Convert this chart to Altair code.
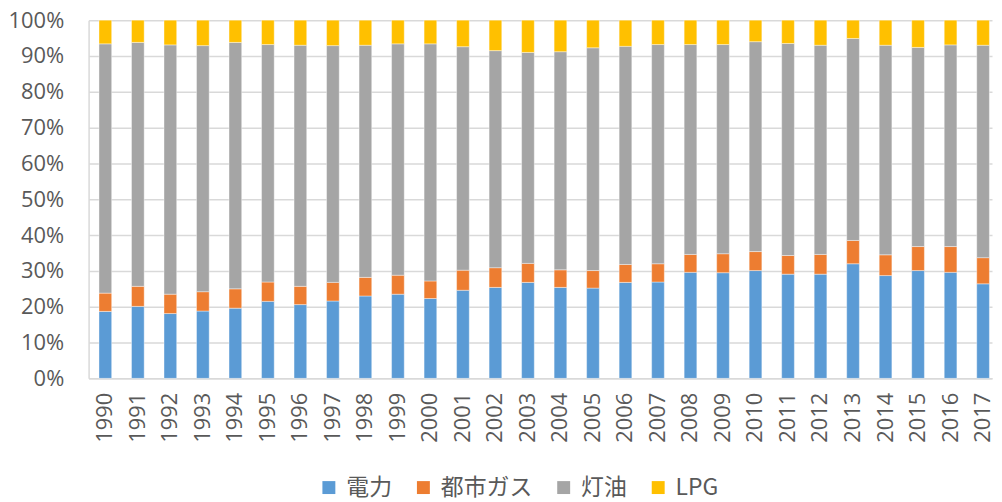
import altair as alt
import pandas as pd

years = [str(y) for y in range(1990, 2018)]
series = ["電力", "都市ガス", "灯油", "LPG"]
colors = ["#5B9BD5", "#ED7D31", "#A5A5A5", "#FFC000"]

electricity = [18.7, 20.1, 18.1, 18.8, 19.6, 21.5, 20.6, 21.6, 23.0, 23.5, 22.3, 24.6, 25.4, 26.8,
               25.4, 25.2, 26.8, 26.9, 29.6, 29.5, 30.1, 29.1, 29.1, 32.0, 28.7, 30.1, 29.6, 26.4]
city_gas = [5.1, 5.6, 5.4, 5.4, 5.4, 5.4, 5.1, 5.2, 5.2, 5.3, 4.9, 5.6, 5.5, 5.3,
            4.9, 4.9, 5.0, 5.1, 5.0, 5.3, 5.3, 5.2, 5.5, 6.5, 5.8, 6.7, 7.2, 7.3]
kerosene = [69.6, 68.1, 69.6, 68.7, 68.8, 66.3, 67.3, 66.1, 64.8, 64.6, 66.2, 62.4, 60.6, 58.9,
            60.9, 62.2, 60.9, 61.2, 58.6, 58.4, 58.6, 59.2, 58.4, 56.4, 58.5, 55.6, 56.3, 59.3]
lpg = [6.6, 6.2, 6.9, 7.1, 6.2, 6.8, 7.0, 7.1, 7.0, 6.6, 6.6, 7.4, 8.5, 9.0,
       8.8, 7.7, 7.3, 6.8, 6.8, 6.8, 6.0, 6.5, 7.0, 5.1, 7.0, 7.6, 6.9, 7.0]

rows = []
for i, y in enumerate(years):
    for k, (name, vals) in enumerate(zip(series, [electricity, city_gas, kerosene, lpg])):
        rows.append({"year": y, "source": name, "value": vals[i], "ord": k})
df = pd.DataFrame(rows)

TEXT = "#595959"

chart = alt.Chart(df).mark_bar(stroke="white", strokeWidth=0.4).encode(
    x=alt.X("year:N", title=None, sort=years,
            scale=alt.Scale(paddingInner=0.61, paddingOuter=0.2, align=0.8),
            axis=alt.Axis(labelAngle=270, labelFont="Open Sans", labelFontSize=22,
                          labelColor=TEXT, labelPadding=14, ticks=False,
                          domainColor="#D9D9D9", domainWidth=1.5, grid=False)),
    y=alt.Y("value:Q", stack="normalize", title=None,
            scale=alt.Scale(domain=[0, 1]),
            axis=alt.Axis(values=[i / 10 for i in range(11)], format=".0%",
                          labelFont="Open Sans", labelFontSize=22, labelColor=TEXT,
                          labelPadding=25, ticks=False, domainColor="#D9D9D9",
                          domainWidth=1.5, gridColor="#D9D9D9", gridWidth=1.5)),
    color=alt.Color("source:N", sort=series,
                    scale=alt.Scale(domain=series, range=colors),
                    legend=alt.Legend(title=None, orient="none", direction="horizontal",
                                      legendX=230, legendY=458,
                                      symbolType="square", symbolSize=169,
                                      symbolStrokeWidth=0, labelFont="Noto Sans CJK JP",
                                      labelFontSize=23, labelColor=TEXT,
                                      labelOffset=6, columnPadding=20)),
    order=alt.Order("ord:Q", sort="ascending"),
).properties(
    width=908, height=360,
    padding={"left": 0, "top": 0, "right": 0, "bottom": 0},
).configure_view(stroke=None)

chart.save("out.html", embed_options={"renderer": "svg", "actions": False})
